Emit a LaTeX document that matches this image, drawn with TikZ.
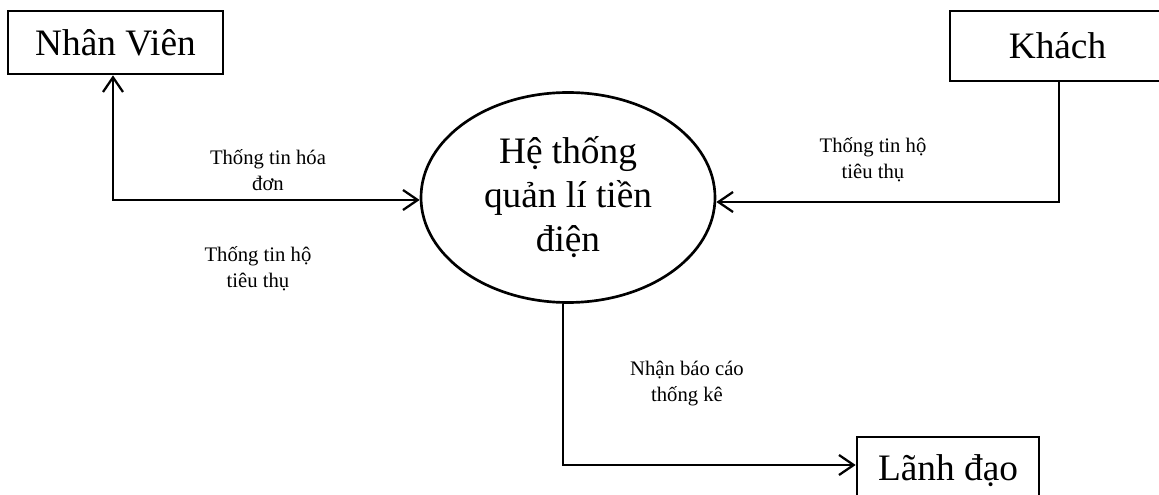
\documentclass[tikz,border=0pt]{standalone}
\usepackage{fontspec}
\setmainfont{Liberation Serif}
\usetikzlibrary{arrows.meta,shapes.geometric}
\tikzset{
  box/.style={draw,line width=2pt,inner sep=0pt,font=\fontsize{28}{33}\selectfont},
  flow/.style={line width=1.7pt,-{Straight Barb[length=11pt,width=15pt]}},
  lbl/.style={align=center,font=\fontsize{15.5}{19.5}\selectfont}
}
\begin{document}
\begin{tikzpicture}[x=0.75pt,y=-0.75pt]
\useasboundingbox (0,0) rectangle (1159,495);
\node[box,minimum width=161.25pt,minimum height=47.25pt] (nv) at (115.5,42.5) {Nhân Viên};
\node[box,minimum width=161.25pt,minimum height=52.5pt] (kh) at (1057.5,46) {Khách};
\node[box,minimum width=136.5pt,minimum height=51pt] (ld) at (948,471) {Lãnh đạo};
\node[box,ellipse,align=center,minimum width=220.5pt,minimum height=157.5pt] (ht) at (568,197.5) {Hệ thống\\quản lí tiền\\điện};
\coordinate (c1) at (113,200);
\coordinate (c2) at (1059,202);
\coordinate (c3) at (563,465);
\draw[flow,{Straight Barb[length=11pt,width=15pt]}-{Straight Barb[length=11pt,width=15pt]}] (nv.south -| c1) -- (c1) -- (c1 -| ht.west);
\draw[flow] (kh.south -| c2) -- (c2) -- (c2 -| ht.east);
\draw[flow] (ht.south -| c3) -- (c3) -- (c3 -| ld.west);
\node[lbl] (l1) at (268,170) {Thống tin hóa\\đơn};
\node[lbl] (l2) at (258,269) {Thống tin hộ\\tiêu thụ};
\node[lbl] (l3) at (873,160) {Thống tin hộ\\tiêu thụ};
\node[lbl] (l4) at (687,384) {Nhận báo cáo\\thống kê};
\end{tikzpicture}
\end{document}
